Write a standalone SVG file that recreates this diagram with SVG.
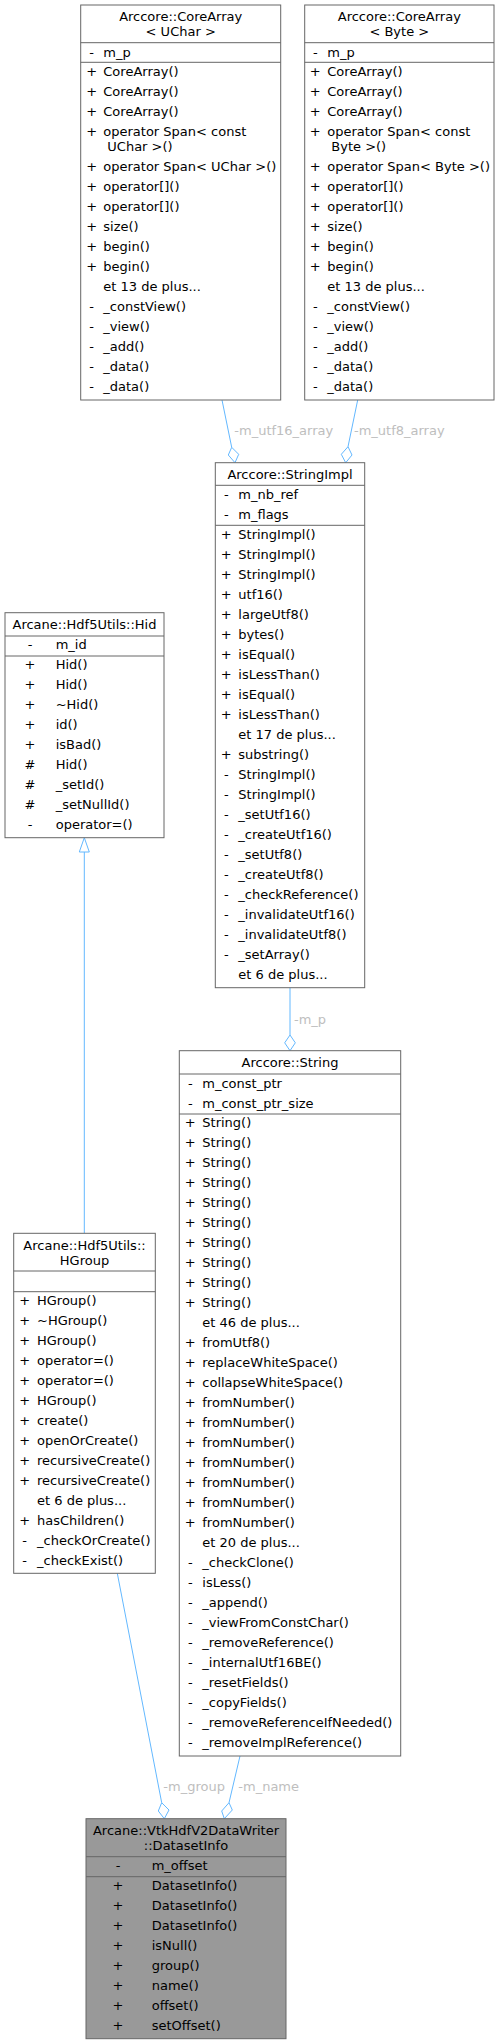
<svg xmlns="http://www.w3.org/2000/svg" width="499" height="2044" viewBox="0 0 499 2044">
<style>
text{font-family:"DejaVu Sans","Liberation Sans",sans-serif;font-size:13px;fill:#000}
.t{text-anchor:middle}
.s{text-anchor:middle}
.lbl{fill:#bebebe}
.box{fill:#fff;stroke:#666;stroke-width:1}
.hl{fill:#999;stroke:#666;stroke-width:1}
.sep{stroke:#666;stroke-width:1}
.edge{fill:none;stroke:#63b8ff;stroke-width:1}
.dia{fill:#fff;stroke:#63b8ff;stroke-width:1}
</style>
<rect width="499" height="2044" fill="#fff"/>
<g id="edges">
<path class="edge" d="M222,400 L231.7,447.3"/>
<polygon class="dia" points="231.7,447.3 238.7,454.3 235,462.7 228.3,455"/>
<text class="lbl" x="234.3" y="435.2">-m_utf16_array</text>
<path class="edge" d="M357.7,400 L348,446.7"/>
<polygon class="dia" points="348,446.7 352,455 345.7,462.7 341.3,454.3"/>
<text class="lbl" x="354" y="435.2">-m_utf8_array</text>
<path class="edge" d="M290,987.7 L290,1035"/>
<polygon class="dia" points="290,1035 295.3,1042.8 290,1050.7 284.7,1042.8"/>
<text class="lbl" x="294" y="1023.5">-m_p</text>
<path class="edge" d="M84.3,1233.3 L84.3,852"/>
<polygon class="dia" points="84.3,837.7 89.3,852 79.3,852"/>
<path class="edge" d="M117.3,1573.3 L161.7,1802.7"/>
<polygon class="dia" points="161.7,1802.7 169,1810 164.3,1818.7 158.3,1811"/>
<text class="lbl" x="163.3" y="1791.2">-m_group</text>
<path class="edge" d="M240,1756 L229,1802.7"/>
<polygon class="dia" points="229,1802.7 232.3,1810 224.3,1818.7 221.7,1811"/>
<text class="lbl" x="238.3" y="1791.2">-m_name</text>
</g>
<g id="node_corearray_uchar">
<rect class="box" x="80.7" y="5" width="200" height="395"/>
<line class="sep" x1="80.7" y1="42.7" x2="280.7" y2="42.7"/>
<line class="sep" x1="80.7" y1="62.3" x2="280.7" y2="62.3"/>
<text class="t" x="180.7" y="21.2">Arccore::CoreArray</text>
<text class="t" x="180.7" y="36.2">&lt; UChar &gt;</text>
<text class="s" x="91.7" y="56.8">-</text><text x="103.3" y="56.8">m_p</text>
<text class="s" x="91.7" y="76.2">+</text><text x="103.3" y="76.2">CoreArray()</text>
<text class="s" x="91.7" y="96.2">+</text><text x="103.3" y="96.2">CoreArray()</text>
<text class="s" x="91.7" y="116.2">+</text><text x="103.3" y="116.2">CoreArray()</text>
<text class="s" x="91.7" y="136.2">+</text><text x="103.3" y="136.2">operator Span&lt; const</text>
<text x="107.3" y="151.2">UChar &gt;()</text>
<text class="s" x="91.7" y="171.2">+</text><text x="103.3" y="171.2">operator Span&lt; UChar &gt;()</text>
<text class="s" x="91.7" y="191.2">+</text><text x="103.3" y="191.2">operator[]()</text>
<text class="s" x="91.7" y="211.2">+</text><text x="103.3" y="211.2">operator[]()</text>
<text class="s" x="91.7" y="231.2">+</text><text x="103.3" y="231.2">size()</text>
<text class="s" x="91.7" y="251.2">+</text><text x="103.3" y="251.2">begin()</text>
<text class="s" x="91.7" y="271.2">+</text><text x="103.3" y="271.2">begin()</text>
<text x="103.3" y="291.2">et 13 de plus...</text>
<text class="s" x="91.7" y="311.2">-</text><text x="103.3" y="311.2">_constView()</text>
<text class="s" x="91.7" y="331.2">-</text><text x="103.3" y="331.2">_view()</text>
<text class="s" x="91.7" y="351.2">-</text><text x="103.3" y="351.2">_add()</text>
<text class="s" x="91.7" y="371.2">-</text><text x="103.3" y="371.2">_data()</text>
<text class="s" x="91.7" y="391.2">-</text><text x="103.3" y="391.2">_data()</text>
</g>
<g id="node_corearray_byte">
<rect class="box" x="304.7" y="5" width="189.3" height="395"/>
<line class="sep" x1="304.7" y1="42.7" x2="494" y2="42.7"/>
<line class="sep" x1="304.7" y1="62.3" x2="494" y2="62.3"/>
<text class="t" x="399.3" y="21.2">Arccore::CoreArray</text>
<text class="t" x="399.3" y="36.2">&lt; Byte &gt;</text>
<text class="s" x="315.3" y="56.8">-</text><text x="327.3" y="56.8">m_p</text>
<text class="s" x="315.3" y="76.2">+</text><text x="327.3" y="76.2">CoreArray()</text>
<text class="s" x="315.3" y="96.2">+</text><text x="327.3" y="96.2">CoreArray()</text>
<text class="s" x="315.3" y="116.2">+</text><text x="327.3" y="116.2">CoreArray()</text>
<text class="s" x="315.3" y="136.2">+</text><text x="327.3" y="136.2">operator Span&lt; const</text>
<text x="331.3" y="151.2">Byte &gt;()</text>
<text class="s" x="315.3" y="171.2">+</text><text x="327.3" y="171.2">operator Span&lt; Byte &gt;()</text>
<text class="s" x="315.3" y="191.2">+</text><text x="327.3" y="191.2">operator[]()</text>
<text class="s" x="315.3" y="211.2">+</text><text x="327.3" y="211.2">operator[]()</text>
<text class="s" x="315.3" y="231.2">+</text><text x="327.3" y="231.2">size()</text>
<text class="s" x="315.3" y="251.2">+</text><text x="327.3" y="251.2">begin()</text>
<text class="s" x="315.3" y="271.2">+</text><text x="327.3" y="271.2">begin()</text>
<text x="327.3" y="291.2">et 13 de plus...</text>
<text class="s" x="315.3" y="311.2">-</text><text x="327.3" y="311.2">_constView()</text>
<text class="s" x="315.3" y="331.2">-</text><text x="327.3" y="331.2">_view()</text>
<text class="s" x="315.3" y="351.2">-</text><text x="327.3" y="351.2">_add()</text>
<text class="s" x="315.3" y="371.2">-</text><text x="327.3" y="371.2">_data()</text>
<text class="s" x="315.3" y="391.2">-</text><text x="327.3" y="391.2">_data()</text>
</g>
<g id="node_stringimpl">
<rect class="box" x="215.3" y="462.7" width="149.4" height="525"/>
<line class="sep" x1="215.3" y1="485.3" x2="364.7" y2="485.3"/>
<line class="sep" x1="215.3" y1="525.3" x2="364.7" y2="525.3"/>
<text class="t" x="290" y="478.5">Arccore::StringImpl</text>
<text class="s" x="226.3" y="498.7">-</text><text x="238.3" y="498.7">m_nb_ref</text>
<text class="s" x="226.3" y="518.7">-</text><text x="238.3" y="518.7">m_flags</text>
<text class="s" x="226.3" y="538.5">+</text><text x="238.3" y="538.5">StringImpl()</text>
<text class="s" x="226.3" y="558.5">+</text><text x="238.3" y="558.5">StringImpl()</text>
<text class="s" x="226.3" y="578.5">+</text><text x="238.3" y="578.5">StringImpl()</text>
<text class="s" x="226.3" y="598.5">+</text><text x="238.3" y="598.5">utf16()</text>
<text class="s" x="226.3" y="618.5">+</text><text x="238.3" y="618.5">largeUtf8()</text>
<text class="s" x="226.3" y="638.5">+</text><text x="238.3" y="638.5">bytes()</text>
<text class="s" x="226.3" y="658.5">+</text><text x="238.3" y="658.5">isEqual()</text>
<text class="s" x="226.3" y="678.5">+</text><text x="238.3" y="678.5">isLessThan()</text>
<text class="s" x="226.3" y="698.5">+</text><text x="238.3" y="698.5">isEqual()</text>
<text class="s" x="226.3" y="718.5">+</text><text x="238.3" y="718.5">isLessThan()</text>
<text x="238.3" y="738.5">et 17 de plus...</text>
<text class="s" x="226.3" y="758.5">+</text><text x="238.3" y="758.5">substring()</text>
<text class="s" x="226.3" y="778.5">-</text><text x="238.3" y="778.5">StringImpl()</text>
<text class="s" x="226.3" y="798.5">-</text><text x="238.3" y="798.5">StringImpl()</text>
<text class="s" x="226.3" y="818.5">-</text><text x="238.3" y="818.5">_setUtf16()</text>
<text class="s" x="226.3" y="838.5">-</text><text x="238.3" y="838.5">_createUtf16()</text>
<text class="s" x="226.3" y="858.5">-</text><text x="238.3" y="858.5">_setUtf8()</text>
<text class="s" x="226.3" y="878.5">-</text><text x="238.3" y="878.5">_createUtf8()</text>
<text class="s" x="226.3" y="898.5">-</text><text x="238.3" y="898.5">_checkReference()</text>
<text class="s" x="226.3" y="918.5">-</text><text x="238.3" y="918.5">_invalidateUtf16()</text>
<text class="s" x="226.3" y="938.5">-</text><text x="238.3" y="938.5">_invalidateUtf8()</text>
<text class="s" x="226.3" y="958.5">-</text><text x="238.3" y="958.5">_setArray()</text>
<text x="238.3" y="978.5">et 6 de plus...</text>
</g>
<g id="node_hid">
<rect class="box" x="5" y="612.7" width="159" height="225"/>
<line class="sep" x1="5" y1="636" x2="164" y2="636"/>
<line class="sep" x1="5" y1="656" x2="164" y2="656"/>
<text class="t" x="84.5" y="628.5">Arcane::Hdf5Utils::Hid</text>
<text class="s" x="30" y="649.2">-</text><text x="55.7" y="649.2">m_id</text>
<text class="s" x="30" y="669.2">+</text><text x="55.7" y="669.2">Hid()</text>
<text class="s" x="30" y="689.2">+</text><text x="55.7" y="689.2">Hid()</text>
<text class="s" x="30" y="709.2">+</text><text x="55.7" y="709.2">~Hid()</text>
<text class="s" x="30" y="729.2">+</text><text x="55.7" y="729.2">id()</text>
<text class="s" x="30" y="749.2">+</text><text x="55.7" y="749.2">isBad()</text>
<text class="s" x="30" y="769.2">#</text><text x="55.7" y="769.2">Hid()</text>
<text class="s" x="30" y="789.2">#</text><text x="55.7" y="789.2">_setId()</text>
<text class="s" x="30" y="809.2">#</text><text x="55.7" y="809.2">_setNullId()</text>
<text class="s" x="30" y="829.2">-</text><text x="55.7" y="829.2">operator=()</text>
</g>
<g id="node_hgroup">
<rect class="box" x="13.7" y="1233.3" width="141.6" height="340"/>
<line class="sep" x1="13.7" y1="1271" x2="155.3" y2="1271"/>
<line class="sep" x1="13.7" y1="1291.7" x2="155.3" y2="1291.7"/>
<text class="t" x="84.5" y="1250.2">Arcane::Hdf5Utils::</text>
<text class="t" x="84.5" y="1265.2">HGroup</text>
<text class="s" x="24.7" y="1304.8">+</text><text x="37" y="1304.8">HGroup()</text>
<text class="s" x="24.7" y="1324.8">+</text><text x="37" y="1324.8">~HGroup()</text>
<text class="s" x="24.7" y="1344.8">+</text><text x="37" y="1344.8">HGroup()</text>
<text class="s" x="24.7" y="1364.8">+</text><text x="37" y="1364.8">operator=()</text>
<text class="s" x="24.7" y="1384.8">+</text><text x="37" y="1384.8">operator=()</text>
<text class="s" x="24.7" y="1404.8">+</text><text x="37" y="1404.8">HGroup()</text>
<text class="s" x="24.7" y="1424.8">+</text><text x="37" y="1424.8">create()</text>
<text class="s" x="24.7" y="1444.8">+</text><text x="37" y="1444.8">openOrCreate()</text>
<text class="s" x="24.7" y="1464.8">+</text><text x="37" y="1464.8">recursiveCreate()</text>
<text class="s" x="24.7" y="1484.8">+</text><text x="37" y="1484.8">recursiveCreate()</text>
<text x="37" y="1504.8">et 6 de plus...</text>
<text class="s" x="24.7" y="1524.8">+</text><text x="37" y="1524.8">hasChildren()</text>
<text class="s" x="24.7" y="1544.8">-</text><text x="37" y="1544.8">_checkOrCreate()</text>
<text class="s" x="24.7" y="1564.8">-</text><text x="37" y="1564.8">_checkExist()</text>
</g>
<g id="node_string">
<rect class="box" x="179.3" y="1050.7" width="221.4" height="705.3"/>
<line class="sep" x1="179.3" y1="1074" x2="400.7" y2="1074"/>
<line class="sep" x1="179.3" y1="1114" x2="400.7" y2="1114"/>
<text class="t" x="290" y="1067.2">Arccore::String</text>
<text class="s" x="190.3" y="1087.5">-</text><text x="202.3" y="1087.5">m_const_ptr</text>
<text class="s" x="190.3" y="1107.5">-</text><text x="202.3" y="1107.5">m_const_ptr_size</text>
<text class="s" x="190.3" y="1127.2">+</text><text x="202.3" y="1127.2">String()</text>
<text class="s" x="190.3" y="1147.2">+</text><text x="202.3" y="1147.2">String()</text>
<text class="s" x="190.3" y="1167.2">+</text><text x="202.3" y="1167.2">String()</text>
<text class="s" x="190.3" y="1187.2">+</text><text x="202.3" y="1187.2">String()</text>
<text class="s" x="190.3" y="1207.2">+</text><text x="202.3" y="1207.2">String()</text>
<text class="s" x="190.3" y="1227.2">+</text><text x="202.3" y="1227.2">String()</text>
<text class="s" x="190.3" y="1247.2">+</text><text x="202.3" y="1247.2">String()</text>
<text class="s" x="190.3" y="1267.2">+</text><text x="202.3" y="1267.2">String()</text>
<text class="s" x="190.3" y="1287.2">+</text><text x="202.3" y="1287.2">String()</text>
<text class="s" x="190.3" y="1307.2">+</text><text x="202.3" y="1307.2">String()</text>
<text x="202.3" y="1327.2">et 46 de plus...</text>
<text class="s" x="190.3" y="1347.2">+</text><text x="202.3" y="1347.2">fromUtf8()</text>
<text class="s" x="190.3" y="1367.2">+</text><text x="202.3" y="1367.2">replaceWhiteSpace()</text>
<text class="s" x="190.3" y="1387.2">+</text><text x="202.3" y="1387.2">collapseWhiteSpace()</text>
<text class="s" x="190.3" y="1407.2">+</text><text x="202.3" y="1407.2">fromNumber()</text>
<text class="s" x="190.3" y="1427.2">+</text><text x="202.3" y="1427.2">fromNumber()</text>
<text class="s" x="190.3" y="1447.2">+</text><text x="202.3" y="1447.2">fromNumber()</text>
<text class="s" x="190.3" y="1467.2">+</text><text x="202.3" y="1467.2">fromNumber()</text>
<text class="s" x="190.3" y="1487.2">+</text><text x="202.3" y="1487.2">fromNumber()</text>
<text class="s" x="190.3" y="1507.2">+</text><text x="202.3" y="1507.2">fromNumber()</text>
<text class="s" x="190.3" y="1527.2">+</text><text x="202.3" y="1527.2">fromNumber()</text>
<text x="202.3" y="1547.2">et 20 de plus...</text>
<text class="s" x="190.3" y="1567.2">-</text><text x="202.3" y="1567.2">_checkClone()</text>
<text class="s" x="190.3" y="1587.2">-</text><text x="202.3" y="1587.2">isLess()</text>
<text class="s" x="190.3" y="1607.2">-</text><text x="202.3" y="1607.2">_append()</text>
<text class="s" x="190.3" y="1627.2">-</text><text x="202.3" y="1627.2">_viewFromConstChar()</text>
<text class="s" x="190.3" y="1647.2">-</text><text x="202.3" y="1647.2">_removeReference()</text>
<text class="s" x="190.3" y="1667.2">-</text><text x="202.3" y="1667.2">_internalUtf16BE()</text>
<text class="s" x="190.3" y="1687.2">-</text><text x="202.3" y="1687.2">_resetFields()</text>
<text class="s" x="190.3" y="1707.2">-</text><text x="202.3" y="1707.2">_copyFields()</text>
<text class="s" x="190.3" y="1727.2">-</text><text x="202.3" y="1727.2">_removeReferenceIfNeeded()</text>
<text class="s" x="190.3" y="1747.2">-</text><text x="202.3" y="1747.2">_removeImplReference()</text>
</g>
<g id="node_datasetinfo">
<rect class="hl" x="86" y="1818.7" width="200" height="220"/>
<line class="sep" x1="86" y1="1856.7" x2="286" y2="1856.7"/>
<line class="sep" x1="86" y1="1876.7" x2="286" y2="1876.7"/>
<text class="t" x="186" y="1835.2">Arcane::VtkHdfV2DataWriter</text>
<text class="t" x="186" y="1850.2">::DatasetInfo</text>
<text class="s" x="118" y="1870.2">-</text><text x="151.7" y="1870.2">m_offset</text>
<text class="s" x="118" y="1889.8">+</text><text x="151.7" y="1889.8">DatasetInfo()</text>
<text class="s" x="118" y="1909.8">+</text><text x="151.7" y="1909.8">DatasetInfo()</text>
<text class="s" x="118" y="1929.8">+</text><text x="151.7" y="1929.8">DatasetInfo()</text>
<text class="s" x="118" y="1949.8">+</text><text x="151.7" y="1949.8">isNull()</text>
<text class="s" x="118" y="1969.8">+</text><text x="151.7" y="1969.8">group()</text>
<text class="s" x="118" y="1989.8">+</text><text x="151.7" y="1989.8">name()</text>
<text class="s" x="118" y="2009.8">+</text><text x="151.7" y="2009.8">offset()</text>
<text class="s" x="118" y="2029.8">+</text><text x="151.7" y="2029.8">setOffset()</text>
</g>
</svg>
